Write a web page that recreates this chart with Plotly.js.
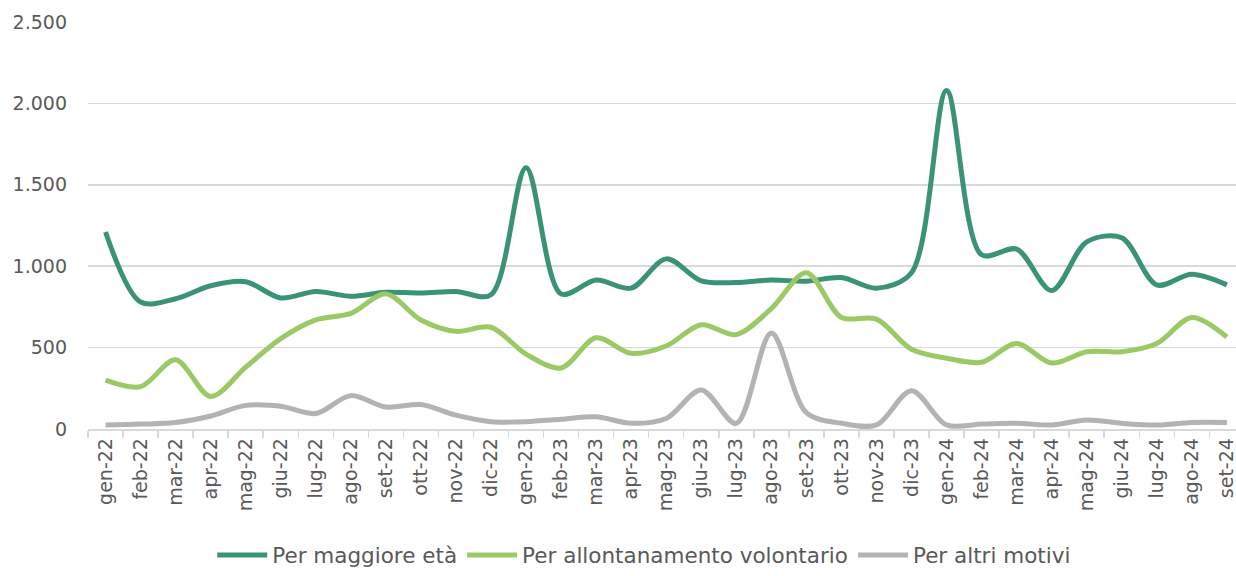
<!DOCTYPE html>
<html>
<head>
<meta charset="utf-8">
<script src="https://cdn.plot.ly/plotly-3.0.1.min.js"></script>
<style>html,body{margin:0;padding:0;background:#fff;}#chart{width:1236px;height:576px;}</style>
</head>
<body>
<div id="chart"></div>
<script>
const months = ["gen-22","feb-22","mar-22","apr-22","mag-22","giu-22","lug-22","ago-22","set-22","ott-22","nov-22","dic-22",
"gen-23","feb-23","mar-23","apr-23","mag-23","giu-23","lug-23","ago-23","set-23","ott-23","nov-23","dic-23",
"gen-24","feb-24","mar-24","apr-24","mag-24","giu-24","lug-24","ago-24","set-24"];
const maggioreEta = [1210,780,800,880,905,805,845,815,840,835,845,825,1605,830,915,865,1045,910,900,915,908,930,865,960,2080,1070,1105,850,1150,1175,885,950,885];
const allontanamento = [300,260,425,200,380,555,670,710,830,670,600,625,460,375,560,465,510,640,580,740,960,685,675,490,435,410,525,405,475,475,525,685,565];
const altriMotivi = [25,30,40,80,145,140,95,205,135,150,85,45,45,60,75,35,65,240,35,590,100,35,25,235,25,30,35,25,55,35,25,40,40];
const seriesNames = ["Per maggiore età","Per allontanamento volontario","Per altri motivi"];
const colors = ["#3a9474","#9ac965","#b3b3b3"];
const font = "DejaVu Sans, sans-serif";
const txt = "#595959";

const data = [maggioreEta, allontanamento, altriMotivi].map((vals, i) => ({
  x: months, y: vals, name: seriesNames[i], type: "scatter", mode: "lines",
  line: {color: colors[i], width: 5, shape: "spline", smoothing: 0.9},
  hoverinfo: "x+y"
}));

const layout = {
  width: 1236, height: 576,
  margin: {l: 87.5, r: 0, t: 22, b: 147},
  paper_bgcolor: "#fff", plot_bgcolor: "#fff",
  separators: ",.",
  font: {family: font, color: txt, size: 19},
  showlegend: true,
  legend: {orientation: "h", x: 0.4845, xanchor: "center", y: -0.36, yanchor: "bottom",
    font: {family: font, size: 21.5, color: txt}, itemwidth: 50, tracegroupgap: 0},
  xaxis: {type: "category", range: [-0.5, 32.26], tickangle: -90,
    showgrid: false, showline: true, linecolor: "#d9d9d9", linewidth: 1.5,
    ticks: "outside", tickson: "boundaries", ticklen: 7, tickcolor: "#d9d9d9", tickwidth: 1.5,
    tickfont: {family: font, size: 19, color: txt}, automargin: false, fixedrange: true},
  yaxis: {range: [0, 2500], tickvals: [0,500,1000,1500,2000,2500], tickformat: ",d",
    showgrid: true, gridcolor: "#d9d9d9", gridwidth: 1.5, zeroline: false, showline: false,
    ticks: "", ticklabelstandoff: 20,
    tickfont: {family: font, size: 19, color: txt}, automargin: false, fixedrange: true}
};
Plotly.newPlot("chart", data, layout, {displayModeBar: false, staticPlot: true});
</script>
</body>
</html>
